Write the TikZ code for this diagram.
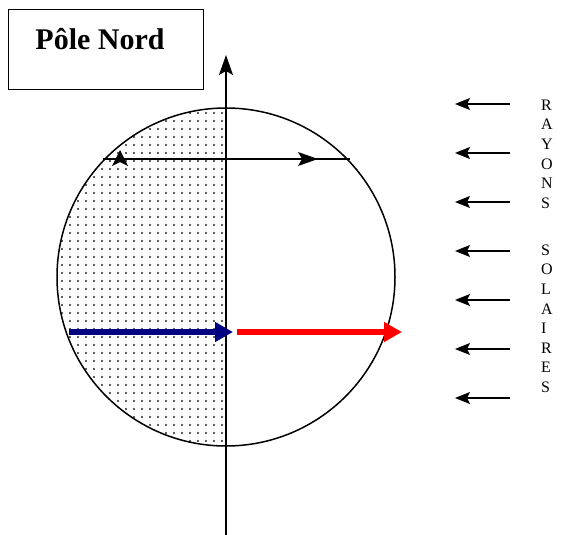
\documentclass[tikz,border=0pt]{standalone}
\usepackage{fontspec}
\setmainfont{Liberation Serif}
\usetikzlibrary{arrows.meta}
\definecolor{navyarrow}{RGB}{0,0,128}
\definecolor{redarrow}{RGB}{255,0,0}
\definecolor{dotgray}{RGB}{40,40,40}
\begin{document}
\begin{tikzpicture}[x=1pt,y=-1pt,
  axisline/.style={line width=1.3pt},
  ray/.style={line width=1.3pt,-{Stealth[length=15pt,width=12pt,inset=3pt]}},
  letter/.style={anchor=west,inner sep=0pt,font=\fontsize{16}{16}\selectfont},
  vec/.style={line width=6pt,-{Triangle[length=18pt,width=19pt]}},
  headfill/.style={fill=black}]
\useasboundingbox (0,0) rectangle (578,535);
% dotted left half
\begin{scope}
  \clip (226,277) circle[radius=169pt];
  \clip (0,0) rectangle (226,535);
  \foreach \i in {0,...,21}{
    \foreach \j in {0,...,43}{
      \fill[dotgray] ({222-8*\i},{105+8*\j}) circle[radius=1.05pt];
    }
  }
\end{scope}
% earth
\node[circle,draw,line width=1.5pt,minimum size=338pt,inner sep=0pt] (earth) at (226,277) {};
% chord
\coordinate (chL) at (103,159);
\coordinate (chR) at (350,159);
\draw[line width=1.3pt] (chL) -- (chR);
\fill[headfill] (120,150) -- (128,166) -- (120,162) -- (112,166) -- cycle;
\fill[headfill] (318,159) -- (298,152) -- (302,159) -- (298,166) -- cycle;
% axis
\coordinate (axbot) at (226,535);
\coordinate (axtop) at (226,55);
\draw[axisline,-{Stealth[length=20pt,width=14pt,inset=4pt]}] (axbot) -- (axtop);
% vectors
\coordinate (b1) at (69,332);
\coordinate (b2) at (233,332);
\coordinate (r1) at (237,332);
\coordinate (r2) at (402,332);
\draw[vec,navyarrow] (b1) -- (b2);
\draw[vec,redarrow] (r1) -- (r2);
% title box
\node[draw,line width=1.3pt,minimum width=195pt,minimum height=80pt,anchor=north west,inner sep=0pt] (box) at (8,9) {};
\node[anchor=base,inner sep=0pt,font=\bfseries\fontsize{30}{30}\selectfont] (title) at (100,50) {Pôle Nord};
% sun rays
\foreach \y [count=\n] in {104,153,202,251,300,349,398}{
  \coordinate (rt\n) at (510,\y);
  \coordinate (rh\n) at (455,\y);
  \draw[ray] (rt\n) -- (rh\n);
}
% letters
\foreach \L [count=\k from 0] in {R,A,Y,O,N,S}{
  \node[letter] (ra\k) at (541,{105+19.6*\k}) {\L};
}
\foreach \L [count=\k from 0] in {S,O,L,A,I,R,E,S}{
  \node[letter] (so\k) at (541,{250+19.6*\k}) {\L};
}
\end{tikzpicture}
\end{document}
